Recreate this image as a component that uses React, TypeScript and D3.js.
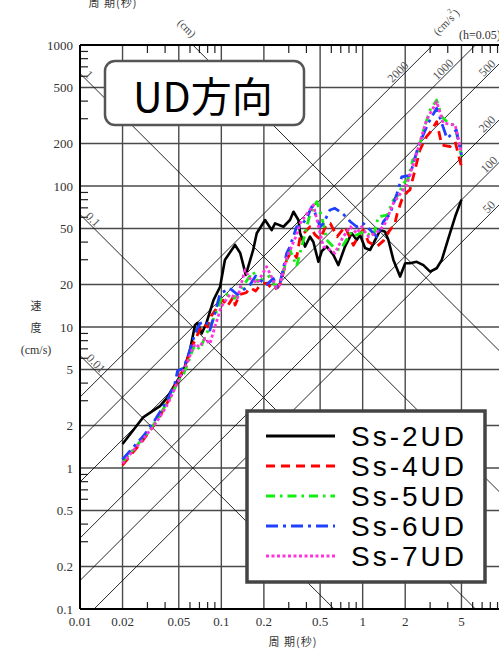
import React from "react";
import * as d3 from "d3";

// ---- axis tick values ----
const xTickLabels = [0.01, 0.02, 0.05, 0.1, 0.2, 0.5, 1, 2, 5];
const yTickLabels = [0.1, 0.2, 0.5, 1, 2, 5, 10, 20, 50, 100, 200, 500, 1000];
const xGrid = [0.02, 0.05, 0.1, 0.2, 0.5, 1, 2, 5];
const yGrid = [0.2, 0.5, 1, 2, 5, 10, 20, 50, 100, 200, 500];
const minorMult = [3, 4, 6, 7, 8, 9];
const xDecades = [0.01, 0.1, 1];
const yDecades = [0.1, 1, 10, 100];

// tripartite guide lines
const dispValues = [0.01, 0.1, 1, 10]; // cm
const accValues = [50, 100, 200, 500, 1000, 2000]; // cm/s2
const dispLabels = [
  { v: 1, t: "1", px: 89 },
  { v: 0.1, t: "0.1", px: 93 },
  { v: 0.01, t: "0.01", px: 96 },
];
const accLabels = [
  { v: 2000, t: "2000", px: 398 },
  { v: 1000, t: "1000", px: 443 },
  { v: 500, t: "500", px: 487 },
  { v: 200, t: "200", px: 487 },
  { v: 100, t: "100", px: 489 },
  { v: 50, t: "50", px: 489 },
];

// ---- series ----
const ss2T = [0.02, 0.028, 0.0297, 0.0368, 0.041, 0.0483, 0.0538, 0.06, 0.0651, 0.0677, 0.0726, 0.078, 0.088, 0.098, 0.106, 0.125, 0.136, 0.149, 0.168, 0.178, 0.204, 0.227, 0.24, 0.275, 0.306, 0.324, 0.351, 0.361, 0.391, 0.424, 0.448, 0.486, 0.514, 0.557, 0.621, 0.673, 0.75, 0.837, 0.908, 0.959, 1.04, 1.13, 1.26, 1.33, 1.44, 1.52, 1.65, 1.84, 2.0, 2.16, 2.41, 2.69, 3.0, 3.34, 3.63, 4.04, 4.51, 5.0];
const ss2V = [1.48, 2.29, 2.38, 2.75, 3.12, 4.09, 4.82, 6.87, 10.3, 10.7, 9.0, 10.5, 15.5, 19.3, 29.9, 38.2, 33.5, 23.4, 35.2, 46.2, 57.4, 48.7, 54.3, 51.4, 57.4, 65.7, 57.4, 46.2, 37.2, 43.7, 40.1, 29.0, 34.6, 37.2, 32.4, 27.5, 37.2, 46.2, 41.4, 44.9, 36.3, 35.2, 43.7, 48.7, 47.4, 41.4, 29.9, 22.8, 28.3, 28.3, 29.0, 27.5, 24.7, 26.1, 29.9, 42.6, 60.5, 80];

const ss4T = [0.02, 0.0226, 0.028, 0.033, 0.0368, 0.0422, 0.047, 0.051, 0.0538, 0.0584, 0.0617, 0.0651, 0.07, 0.075, 0.08, 0.085, 0.09, 0.098, 0.103, 0.11, 0.122, 0.125, 0.135, 0.15, 0.16, 0.175, 0.19, 0.21, 0.233, 0.253, 0.265, 0.29, 0.306, 0.324, 0.341, 0.361, 0.381, 0.424, 0.461, 0.5, 0.557, 0.59, 0.66, 0.75, 0.86, 0.96, 1.01, 1.1, 1.26, 1.4, 1.56, 1.69, 1.75, 1.89, 2.07, 2.16, 2.3, 2.54, 2.83, 3.0, 3.34, 3.63, 4.15, 4.51, 5.0];
const ss4V = [1.05, 1.22, 1.58, 1.98, 2.35, 3.0, 3.8, 4.5, 5.0, 6.1, 7.3, 8.0, 9.5, 10.5, 10.0, 12.0, 13.0, 15.0, 15.5, 14.0, 16.4, 14.3, 17.0, 17.5, 19.0, 18.0, 20.0, 20.5, 18.3, 19.3, 21.0, 30.0, 33.0, 33.4, 31.0, 43.7, 46.0, 51.4, 45.0, 42.0, 54.0, 54.3, 43.7, 51.4, 38.0, 46.2, 48.7, 40.0, 37.2, 40.8, 48.7, 54.0, 63.2, 79.6, 91.0, 94.0, 120, 180, 224, 240, 286, 195, 190, 206, 137];

const ss5T = [0.02, 0.0226, 0.028, 0.033, 0.0368, 0.0422, 0.047, 0.051, 0.0538, 0.0584, 0.0617, 0.0651, 0.0707, 0.0765, 0.083, 0.09, 0.1, 0.11, 0.125, 0.14, 0.155, 0.168, 0.18, 0.2, 0.22, 0.24, 0.26, 0.29, 0.306, 0.341, 0.381, 0.424, 0.473, 0.514, 0.557, 0.636, 0.69, 0.729, 0.82, 0.861, 1.01, 1.19, 1.29, 1.49, 1.65, 1.75, 1.94, 2.1, 2.26, 2.41, 2.69, 3.0, 3.34, 3.63, 3.95, 4.37, 4.51, 5.0];
const ss5V = [1.1, 1.27, 1.63, 2.02, 2.38, 3.03, 3.7, 4.3, 4.6, 5.6, 6.6, 7.5, 6.9, 8.5, 10.0, 12.0, 16.0, 17.0, 16.0, 19.0, 22.1, 24.7, 21.0, 22.0, 23.0, 19.5, 20.4, 30.0, 35.2, 27.0, 41.4, 63.2, 77.5, 60.5, 41.4, 36.1, 35.2, 38.2, 46.2, 43.7, 47.4, 43.7, 60.5, 62.2, 79.6, 84.0, 104, 113, 153, 161, 249, 346, 407, 310, 286, 271, 264, 163];

const ss6T = [0.02, 0.0226, 0.028, 0.033, 0.0368, 0.0422, 0.047, 0.049, 0.0538, 0.0584, 0.0617, 0.0651, 0.0707, 0.0786, 0.083, 0.09, 0.098, 0.115, 0.13, 0.143, 0.16, 0.175, 0.188, 0.21, 0.233, 0.25, 0.26, 0.29, 0.306, 0.341, 0.361, 0.402, 0.436, 0.461, 0.5, 0.527, 0.587, 0.636, 0.729, 0.82, 0.908, 1.01, 1.13, 1.26, 1.4, 1.56, 1.75, 1.89, 2.16, 2.47, 2.91, 3.34, 3.95, 4.6, 5.0];
const ss6V = [1.15, 1.32, 1.68, 2.1, 2.5, 3.15, 4.0, 4.9, 5.1, 6.3, 7.5, 9.0, 10.6, 10.9, 9.5, 12.5, 17.3, 18.8, 17.0, 18.3, 20.0, 23.0, 21.5, 20.0, 22.1, 19.0, 20.4, 33.4, 37.2, 51.4, 51.4, 59.0, 71.3, 64.0, 51.4, 54.3, 67.6, 69.5, 63.2, 55.8, 51.4, 54.3, 48.7, 43.7, 55.8, 63.2, 88.7, 116, 119, 190, 279, 356, 218, 249, 166];

const ss7T = [0.02, 0.0226, 0.028, 0.033, 0.0368, 0.0422, 0.047, 0.051, 0.0538, 0.0584, 0.0617, 0.0651, 0.07, 0.0765, 0.083, 0.09, 0.1, 0.115, 0.13, 0.147, 0.16, 0.18, 0.209, 0.23, 0.245, 0.26, 0.29, 0.306, 0.341, 0.361, 0.402, 0.448, 0.48, 0.527, 0.587, 0.636, 0.729, 0.82, 0.908, 0.98, 1.1, 1.22, 1.33, 1.44, 1.65, 2.05, 2.41, 2.83, 3.34, 3.72, 4.51, 5.0];
const ss7V = [1.08, 1.25, 1.6, 1.98, 2.3, 2.9, 3.7, 4.4, 4.9, 5.8, 6.8, 7.6, 7.2, 8.3, 7.6, 10.0, 14.0, 17.0, 16.0, 25.4, 22.0, 20.5, 26.8, 22.0, 19.0, 20.0, 31.0, 35.0, 45.0, 54.3, 63.2, 73.5, 55.0, 37.2, 35.2, 33.4, 43.7, 51.4, 46.2, 51.4, 43.7, 46.2, 48.7, 54.3, 75.4, 102, 171, 294, 396, 279, 271, 171];

const seriesNames = ["Ss-2UD", "Ss-4UD", "Ss-5UD", "Ss-6UD", "Ss-7UD"];
const seriesT = [ss2T, ss4T, ss5T, ss6T, ss7T];
const seriesV = [ss2V, ss4V, ss5V, ss6V, ss7V];
const seriesColor = ["#000000", "#ff0000", "#11ee11", "#2040ff", "#ff33dd"];
const seriesDash = ["none", "9,6", "9,5,2.5,5", "12,5,3,5", "3,2.5"];

export default function App() {
  const W = 499, H = 649;
  const L = 80, R = 504, T = 45, B = 609;
  const x = d3.scaleLog().domain([0.01, 10]).range([L, R]);
  const y = d3.scaleLog().domain([0.1, 1000]).range([B, T]);
  const line = d3.line<[number, number]>().x((d) => x(d[0])).y((d) => y(d[1]));

  const dispV = (D: number, t: number) => (2 * Math.PI * D) / t;
  const accV = (A: number, t: number) => (A * t) / (2 * Math.PI);

  const serif = "'Liberation Serif', 'DejaVu Serif', serif";
  const cjk = "'Noto Sans CJK JP', sans-serif";
  const gridColor = "#4a4a4a";

  const minorX: number[] = [];
  xDecades.forEach((d) => minorMult.forEach((m) => minorX.push(d * m)));
  const minorY: number[] = [];
  yDecades.forEach((d) => minorMult.forEach((m) => minorY.push(d * m)));

  const fmt = (v: number) => String(v);

  return (
    <svg width={W} height={H} style={{ position: "absolute", left: 0, top: 0, background: "#fff" }}>
      <defs>
        <clipPath id="plotClip">
          <rect x={L} y={T} width={R - L} height={B - T} />
        </clipPath>
      </defs>
      <rect x={0} y={0} width={W} height={H} fill="#fff" />

      {/* grid */}
      {xGrid.map((v) => (
        <line key={"gx" + v} x1={x(v)} x2={x(v)} y1={T} y2={B} stroke={gridColor} strokeWidth={1.4} />
      ))}
      {yGrid.map((v) => (
        <line key={"gy" + v} x1={L} x2={R} y1={y(v)} y2={y(v)} stroke={gridColor} strokeWidth={1.4} />
      ))}

      {/* minor ticks */}
      {minorX.map((v) => (
        <g key={"mx" + v}>
          <line x1={x(v)} x2={x(v)} y1={B} y2={B - 7} stroke="#222" strokeWidth={1.2} />
          <line x1={x(v)} x2={x(v)} y1={T} y2={T + 8} stroke="#222" strokeWidth={1.2} />
        </g>
      ))}
      {minorY.map((v) => (
        <line key={"my" + v} x1={L} x2={L + 8} y1={y(v)} y2={y(v)} stroke="#222" strokeWidth={1.2} />
      ))}

      {/* tripartite diagonals */}
      <g clipPath="url(#plotClip)">
        {dispValues.map((D) => (
          <line key={"d" + D} x1={x(0.01)} y1={y(dispV(D, 0.01))} x2={x(10)} y2={y(dispV(D, 10))} stroke="#111" strokeWidth={0.9} />
        ))}
        {accValues.map((A) => (
          <line key={"a" + A} x1={x(0.01)} y1={y(accV(A, 0.01))} x2={x(10)} y2={y(accV(A, 10))} stroke="#111" strokeWidth={0.9} />
        ))}
      </g>

      {/* diagonal labels */}
      {dispLabels.map((l) => {
        const cx = l.px;
        const cy = y(dispV(l.v, x.invert(cx))) - 8;
        return (
          <text key={"dl" + l.t} x={cx} y={cy} fontFamily={serif} fontSize={12} fill="#555" textAnchor="middle" dominantBaseline="central" transform={`rotate(45 ${cx} ${cy})`}>
            {l.t}
          </text>
        );
      })}
      {accLabels.map((l) => {
        const cx = l.px;
        const cy = y(accV(l.v, x.invert(cx))) - 8;
        return (
          <text key={"al" + l.t} x={cx} y={cy} fontFamily={serif} fontSize={12} fill="#555" textAnchor="middle" dominantBaseline="central" transform={`rotate(-45 ${cx} ${cy})`}>
            {l.t}
          </text>
        );
      })}

      {/* curves */}
      <g clipPath="url(#plotClip)" fill="none">
        {seriesNames.map((n, i) => {
          const pts = seriesT[i].map((t, j) => [t, seriesV[i][j]] as [number, number]);
          return (
            <path key={n} d={line(pts) || ""} stroke={seriesColor[i]} strokeWidth={i === 0 ? 2.6 : 2.8} strokeDasharray={seriesDash[i]} strokeLinejoin="round" />
          );
        })}
      </g>

      {/* frame */}
      <line x1={L} x2={L} y1={T} y2={B} stroke="#000" strokeWidth={2} />
      <line x1={L} x2={R} y1={B} y2={B} stroke="#000" strokeWidth={2} />
      <line x1={L} x2={R} y1={T} y2={T} stroke="#000" strokeWidth={2} />
      <line x1={R} x2={R} y1={T} y2={B} stroke="#000" strokeWidth={2} />

      {/* tick labels */}
      {xTickLabels.map((v) => (
        <text key={"xl" + v} x={x(v)} y={626} fontFamily={serif} fontSize={13} fill="#333" textAnchor="middle">
          {fmt(v)}
        </text>
      ))}
      {yTickLabels.map((v) => (
        <text key={"yl" + v} x={73} y={y(v)} fontFamily={serif} fontSize={13} fill="#333" textAnchor="end" dominantBaseline="central">
          {fmt(v)}
        </text>
      ))}

      {/* axis titles */}
      <text x={293} y={646} fontFamily={cjk} fontSize={11} fill="#333" textAnchor="middle" letterSpacing={1}>周 期(秒)</text>
      <text x={113} y={7} fontFamily={cjk} fontSize={11} fill="#333" textAnchor="middle" letterSpacing={1}>周 期(秒)</text>
      <text x={36} y={310} fontFamily={cjk} fontSize={11} fill="#333" textAnchor="middle">速</text>
      <text x={36} y={332} fontFamily={cjk} fontSize={11} fill="#333" textAnchor="middle">度</text>
      <text x={36} y={354} fontFamily={serif} fontSize={12} fill="#333" textAnchor="middle">(cm/s)</text>
      <text x={187} y={28} fontFamily={serif} fontSize={11} fill="#444" textAnchor="middle" dominantBaseline="central" transform="rotate(45 187 28)">(cm)</text>
      <text x={446} y={22} fontFamily={serif} fontSize={11} fill="#444" textAnchor="middle" dominantBaseline="central" transform="rotate(-45 446 22)">
        (cm/s<tspan fontSize={7} dy={-5}>2</tspan><tspan dy={5}>)</tspan>
      </text>
      <text x={459} y={39} fontFamily={serif} fontSize={12} fill="#333">(h=0.05)</text>

      {/* title box */}
      <rect x={105} y={61} width={199} height={64} rx={10} ry={10} fill="#fff" stroke="#555" strokeWidth={2.5} />
      <text x={133} y={112} fontFamily={cjk} fontSize={41} fill="#000">UD方向</text>

      {/* legend */}
      <rect x={247} y={411} width={238} height={171} fill="#fff" stroke="#444" strokeWidth={3.5} />
      {seriesNames.map((n, i) => {
        const ly = 436 + i * 30;
        return (
          <g key={"lg" + n}>
            <line x1={266} x2={335} y1={ly} y2={ly} stroke={seriesColor[i]} strokeWidth={3} strokeDasharray={seriesDash[i]} />
            <text x={351} y={ly + 10} fontFamily="'Liberation Sans', Arial, sans-serif" fontSize={28} letterSpacing={3} fill="#000">
              {n}
            </text>
          </g>
        );
      })}
    </svg>
  );
}
